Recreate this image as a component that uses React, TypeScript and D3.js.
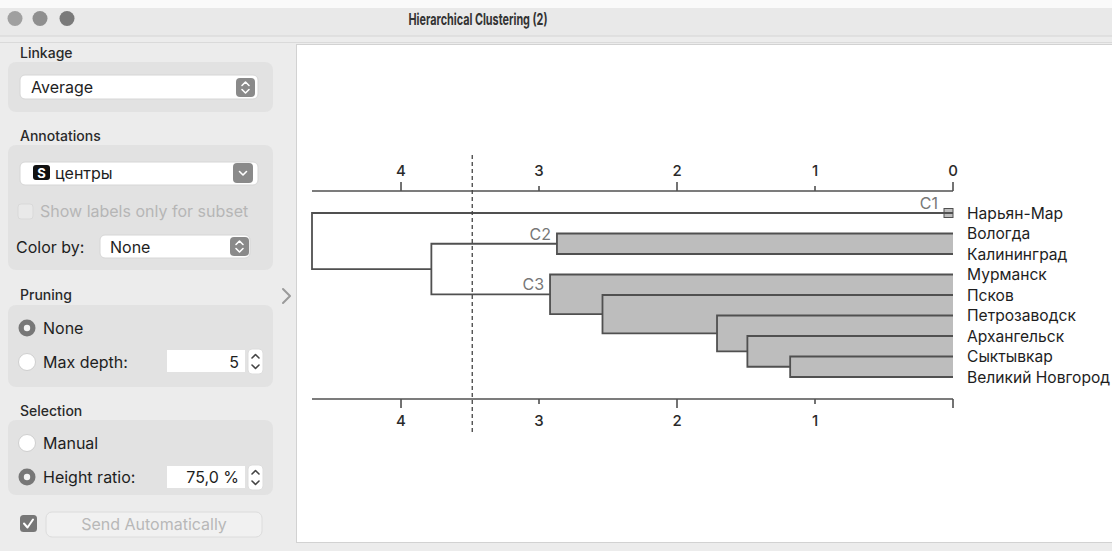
import * as d3 from 'd3';

// leaf order as drawn, top to bottom
const leafNames = [
  'Нарьян-Мар',
  'Вологда',
  'Калининград',
  'Мурманск',
  'Псков',
  'Петрозаводск',
  'Архангельск',
  'Сыктывкар',
  'Великий Новгород',
];

// merges (scipy style): ids < 9 are leaves, id 9 + k is merge k
const mergeLeft = [7, 6, 5, 4, 3, 1, 14, 0];
const mergeRight = [8, 9, 10, 11, 12, 2, 13, 15];
const mergeHeight = [1.18, 1.49, 1.71, 2.54, 2.92, 2.87, 3.78, 4.645];

const axisTicks = [0, 1, 2, 3, 4];
const heightRatio = 0.75;

const FONT = 'Inter, "Liberation Sans", Arial, sans-serif';
const LINE = '#505050';
const FILL = '#bdbdbd';

const nLeaves = leafNames.length;
const maxHeight = d3.max(mergeHeight) as number;
const cutHeight = maxHeight * heightRatio;

const xScale = d3.scaleLinear().domain([maxHeight, 0]).range([312, 953]);
const yScale = d3.scalePoint<string>().domain(leafNames).range([213, 377]);

const isLeaf = (id: number) => id < nLeaves;
const nodeHeight = (id: number) => (isLeaf(id) ? 0 : mergeHeight[id - nLeaves]);
const nodeX = (id: number) => xScale(nodeHeight(id));
function nodeY(id: number): number {
  if (isLeaf(id)) return yScale(leafNames[id]) as number;
  const k = id - nLeaves;
  return (nodeY(mergeLeft[k]) + nodeY(mergeRight[k])) / 2;
}

// outline of a subtree, used for the cluster fill
function topEdge(id: number): [number, number][] {
  if (isLeaf(id)) return [[nodeX(id), nodeY(id)]];
  const l = mergeLeft[id - nLeaves];
  return [[nodeX(id), nodeY(l)], [nodeX(l), nodeY(l)], ...topEdge(l)];
}
function bottomEdge(id: number): [number, number][] {
  if (isLeaf(id)) return [[nodeX(id), nodeY(id)]];
  const r = mergeRight[id - nLeaves];
  return [[nodeX(id), nodeY(r)], [nodeX(r), nodeY(r)], ...bottomEdge(r)];
}

// clusters below the cut line
function findClusters(id: number, out: number[]) {
  if (nodeHeight(id) < cutHeight) {
    out.push(id);
    return out;
  }
  const k = id - nLeaves;
  findClusters(mergeLeft[k], out);
  findClusters(mergeRight[k], out);
  return out;
}
const rootId = nLeaves + mergeHeight.length - 1;
const clusters = findClusters(rootId, []);

const line = d3.line();

function Stepper({ x, y, w = 19, h = 19 }: { x: number; y: number; w?: number; h?: number }) {
  const cx = x + w / 2;
  const cy = y + h / 2;
  return (
    <g>
      <rect x={x} y={y} width={w} height={h} rx={4} fill="#8a8a8a" />
      <path
        d={`M${cx - 3.5},${cy - 2} L${cx},${cy - 5.5} L${cx + 3.5},${cy - 2} M${cx - 3.5},${cy + 2} L${cx},${cy + 5.5} L${cx + 3.5},${cy + 2}`}
        fill="none"
        stroke="#fff"
        strokeWidth={1.6}
        strokeLinecap="round"
        strokeLinejoin="round"
      />
    </g>
  );
}

function SpinArrows({ x, y }: { x: number; y: number }) {
  return (
    <g>
      <rect x={x} y={y} width={15} height={25} rx={4} fill="#fff" stroke="#ddd" />
      <path
        d={`M${x + 4},${y + 9} L${x + 7.5},${y + 5.5} L${x + 11},${y + 9} M${x + 4},${y + 16} L${x + 7.5},${y + 19.5} L${x + 11},${y + 16}`}
        fill="none"
        stroke="#444"
        strokeWidth={1.6}
        strokeLinecap="round"
        strokeLinejoin="round"
      />
    </g>
  );
}

function Radio({ cx, cy, on }: { cx: number; cy: number; on: boolean }) {
  return on ? (
    <g>
      <circle cx={cx} cy={cy} r={8.5} fill="#777" />
      <circle cx={cx} cy={cy} r={3.2} fill="#f4f4f4" />
    </g>
  ) : (
    <circle cx={cx} cy={cy} r={8.5} fill="#fff" stroke="#cfcfcf" />
  );
}

function Panel() {
  const label = { fontFamily: FONT, fontSize: 14, fontWeight: 500, fill: '#2a2a2a' };
  const text = { fontFamily: FONT, fontSize: 16, fill: '#1e1e1e' };
  const box = { fill: '#e2e2e2', rx: 8 };
  return (
    <g>
      {/* Linkage */}
      <text x={20} y={58} {...label}>Linkage</text>
      <rect x={8} y={62} width={265} height={50} {...box} />
      <rect x={20} y={75} width={238} height={24} rx={5} fill="#fff" stroke="#d6d6d6" />
      <text x={31} y={93} {...text}>Average</text>
      <Stepper x={236} y={78} />

      {/* Annotations */}
      <text x={20} y={141} {...label}>Annotations</text>
      <rect x={8} y={145} width={265} height={125} {...box} />
      <rect x={20} y={162} width={238} height={23} rx={5} fill="#fff" stroke="#d6d6d6" />
      <rect x={33} y={165} width={17} height={15} rx={3} fill="#111" />
      <text x={41.5} y={177.5} textAnchor="middle" fontFamily={FONT} fontSize={13} fontWeight={700} fill="#fff">S</text>
      <text x={55} y={179} {...text}>центры</text>
      <rect x={233} y={163} width={20} height={20} rx={4} fill="#8a8a8a" />
      <path d="M239.5,171.5 L243,175 L246.5,171.5" fill="none" stroke="#fff" strokeWidth={1.6} strokeLinecap="round" strokeLinejoin="round" />
      <rect x={18} y={204} width={15} height={15} rx={3} fill="#e9e9e9" stroke="#d9d9d9" />
      <text x={40} y={217} {...text} fill="#b6b6b6">Show labels only for subset</text>
      <text x={16} y={253} {...text}>Color by:</text>
      <rect x={100} y={235} width={150} height={23} rx={5} fill="#fff" stroke="#d6d6d6" />
      <text x={110} y={253} {...text}>None</text>
      <Stepper x={230} y={237} />

      {/* collapse arrow */}
      <path d="M283,289 L290,296 L283,303" fill="none" stroke="#9a9a9a" strokeWidth={2} strokeLinecap="round" strokeLinejoin="round" />

      {/* Pruning */}
      <text x={20} y={300} {...label}>Pruning</text>
      <rect x={8} y={305} width={265} height={82} {...box} />
      <Radio cx={27} cy={328} on />
      <text x={43} y={334} {...text}>None</text>
      <Radio cx={27} cy={362} on={false} />
      <text x={43} y={368} {...text}>Max depth:</text>
      <rect x={167} y={350} width={78} height={22} fill="#fff" />
      <text x={239} y={367.5} textAnchor="end" {...text}>5</text>
      <SpinArrows x={248} y={349} />

      {/* Selection */}
      <text x={20} y={416} {...label}>Selection</text>
      <rect x={8} y={420} width={265} height={75} {...box} />
      <Radio cx={27} cy={443} on={false} />
      <text x={43} y={449} {...text}>Manual</text>
      <Radio cx={27} cy={477} on />
      <text x={43} y={483} {...text}>Height ratio:</text>
      <rect x={167} y={466} width={78} height={22} fill="#fff" />
      <text x={239} y={483} textAnchor="end" {...text}>75,0 %</text>
      <SpinArrows x={248} y={465} />

      {/* Send automatically */}
      <rect x={20} y={515} width={17} height={17} rx={3.5} fill="#777" />
      <path d="M24,523.5 L27.5,527.5 L33,519.5" fill="none" stroke="#fff" strokeWidth={2} strokeLinecap="round" strokeLinejoin="round" />
      <rect x={46} y={512} width={216} height={25} rx={6} fill="#f1f1f1" stroke="#dcdcdc" />
      <text x={154} y={530} textAnchor="middle" {...text} fill="#b8b8b8">Send Automatically</text>
    </g>
  );
}

function Dendrogram() {
  const merges = mergeHeight.map((_, k) => nLeaves + k);
  const axisTopY = 191;
  const axisBottomY = 399;
  const cutX = xScale(cutHeight);
  const x0 = xScale(0);
  const tickFont = { fontFamily: FONT, fontSize: 15, fontWeight: 500, fill: '#2a2a2a' };

  return (
    <g>
      {/* cluster fills */}
      {clusters.map((id) => {
        if (isLeaf(id)) {
          return (
            <rect key={`f${id}`} x={nodeX(id) - 9} y={nodeY(id) - 4.5} width={9} height={9} fill={FILL} stroke={LINE} strokeWidth={1} />
          );
        }
        const pts = [...topEdge(id).reverse(), ...bottomEdge(id)];
        return <path key={`f${id}`} d={line(pts) + 'Z'} fill={FILL} stroke="none" />;
      })}

      {/* links */}
      {merges.map((id) => {
        const k = id - nLeaves;
        const l = mergeLeft[k];
        const r = mergeRight[k];
        return (
          <path
            key={`m${id}`}
            d={`M${nodeX(l)},${nodeY(l)} H${nodeX(id)} V${nodeY(r)} H${nodeX(r)}`}
            fill="none"
            stroke={LINE}
            strokeWidth={1.8}
          />
        );
      })}

      {/* cluster labels */}
      {clusters.map((id, i) => (
        <text
          key={`c${id}`}
          x={(isLeaf(id) ? nodeX(id) - 9 : nodeX(id)) - 6}
          y={nodeY(id) - 4}
          textAnchor="end"
          fontFamily={FONT}
          fontSize={16}
          fill="#777"
        >
          {`C${i + 1}`}
        </text>
      ))}

      {/* leaf labels */}
      {leafNames.map((name) => (
        <text key={name} x={x0 + 14} y={(yScale(name) as number) + 5.5} fontFamily={FONT} fontSize={15.6} fill="#1e1e1e">
          {name}
        </text>
      ))}

      {/* axes */}
      {[axisTopY, axisBottomY].map((ay, a) => (
        <g key={`ax${a}`}>
          <line x1={xScale(maxHeight)} x2={x0} y1={ay} y2={ay} stroke={LINE} strokeWidth={1.6} />
          {axisTicks.map((t) => {
            const len = t % 2 === 0 ? 9 : 5;
            const dir = a === 0 ? -1 : 1;
            return (
              <g key={t}>
                <line x1={xScale(t)} x2={xScale(t)} y1={ay} y2={ay + dir * len} stroke={LINE} strokeWidth={1.6} />
                {!(a === 1 && t === 0) && (
                  <text x={xScale(t)} y={a === 0 ? ay - 15 : ay + 27} textAnchor="middle" {...tickFont}>
                    {t}
                  </text>
                )}
              </g>
            );
          })}
        </g>
      ))}

      {/* cut line */}
      <line x1={cutX} x2={cutX} y1={155} y2={434} stroke="#444" strokeWidth={1.3} strokeDasharray="4,3" />
    </g>
  );
}

export default function App() {
  return (
    <div style={{ position: 'absolute', left: 0, top: 0 }}>
      <svg width={1112} height={551} style={{ display: 'block' }}>
        <rect x={0} y={0} width={1112} height={551} fill="#ececec" />
        {/* title bar */}
        <rect x={0} y={0} width={1112} height={8} fill="#fafafa" />
        <rect x={0} y={8} width={1112} height={28} fill="#e9e9e9" />
        <line x1={0} x2={1112} y1={36} y2={36} stroke="#d4d4d4" />
        <line x1={0} x2={1112} y1={42.5} y2={42.5} stroke="#dadada" />
        {[
          [15, '#a0a0a0'],
          [40, '#8f8f8f'],
          [67, '#7a7a7a'],
        ].map(([cx, c]) => (
          <circle key={cx as number} cx={cx as number} cy={18.5} r={7.5} fill={c as string} />
        ))}
        <text x={478} y={24.5} textAnchor="middle" fontFamily={FONT} fontSize={16} fontWeight={700} fill="#333" textLength={139} lengthAdjust="spacingAndGlyphs">
          Hierarchical Clustering (2)
        </text>

        <Panel />

        {/* plot frame */}
        <rect x={296.5} y={44.5} width={830} height={498} fill="#fff" stroke="#d2d2d2" />
        <Dendrogram />
      </svg>
    </div>
  );
}
